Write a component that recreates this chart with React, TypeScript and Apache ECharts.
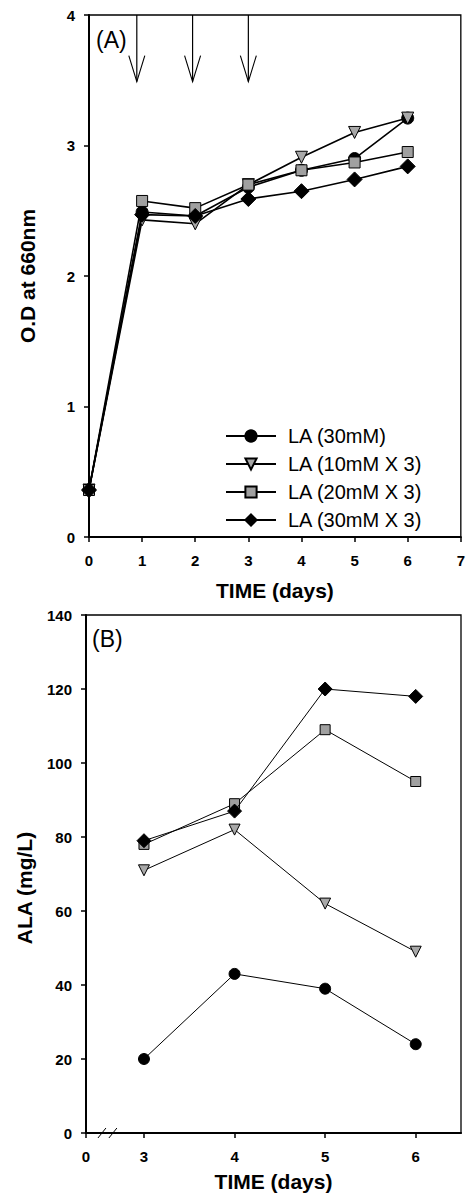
import React, { useEffect, useRef } from "react";
import * as echarts from "echarts";

// ---- Panel A data (O.D at 660nm) ----
const odDays = [0, 1, 2, 3, 4, 5, 6];
const odLA30 = [0.36, 2.49, 2.46, 2.68, 2.81, 2.9, 3.21];
const odLA10x3 = [0.36, 2.43, 2.4, 2.7, 2.91, 3.1, 3.21];
const odLA20x3 = [0.36, 2.575, 2.52, 2.7, 2.81, 2.87, 2.95];
const odLA30x3 = [0.36, 2.47, 2.46, 2.59, 2.65, 2.74, 2.84];
const arrowDays = [0.9, 1.95, 3.0];
const arrowTop = 4;
const arrowTip = 3.49;

// ---- Panel B data (ALA mg/L) ----
const alaDays = [3, 4, 5, 6];
const alaLA30 = [20, 43, 39, 24];
const alaLA10x3 = [71, 82, 62, 49];
const alaLA20x3 = [78, 89, 109, 95];
const alaLA30x3 = [79, 87, 120, 118];
const alaTickValues = [2.36, 3, 4, 5, 6];
const alaBreakMarks = [2.536, 2.657];

const seriesNames = ["LA (30mM)", "LA (10mM X 3)", "LA (20mM X 3)", "LA (30mM X 3)"];

const FONT = "Liberation Sans";

const styles = [
  { symbol: "circle", symbolSize: 12, rotate: 0, fill: "#000" },
  { symbol: "triangle", symbolSize: 12, rotate: 180, fill: "#a8a8a8" },
  { symbol: "rect", symbolSize: 11, rotate: 0, fill: "#a0a0a0" },
  { symbol: "diamond", symbolSize: 15, rotate: 0, fill: "#000" },
];

function pair(xs: number[], ys: number[]) {
  return xs.map((x, i) => [x, ys[i]]);
}

export default function App() {
  const ref = useRef<HTMLDivElement>(null);
  useEffect(() => {
    const chart = echarts.init(ref.current!, null, { renderer: "svg" });
    const axisLine = { show: true, lineStyle: { color: "#000", width: 2 } };
    const axisTick = { show: true, inside: false, length: 5, lineStyle: { color: "#000", width: 1.5 } };
    const axisLabel = { color: "#000", fontSize: 15, fontWeight: "bold" as const, fontFamily: FONT };
    const nameStyle = { color: "#000", fontSize: 21, fontWeight: "bold" as const, fontFamily: FONT };

    const odSets = [odLA30, odLA10x3, odLA20x3, odLA30x3];
    const alaSets = [alaLA30, alaLA10x3, alaLA20x3, alaLA30x3];

    const lineSeries: any[] = [];
    odSets.forEach((ys, i) => {
      const s = styles[i];
      lineSeries.push({
        type: "line",
        name: seriesNames[i],
        xAxisIndex: 0,
        yAxisIndex: 0,
        data: pair(odDays, ys),
        symbol: s.symbol,
        symbolSize: s.symbolSize,
        symbolRotate: s.rotate,
        lineStyle: { color: "#000", width: 1.6 },
        itemStyle: { color: s.fill, borderColor: "#000", borderWidth: 1 },
        z: 2 + i,
      });
    });
    alaSets.forEach((ys, i) => {
      const s = styles[i];
      lineSeries.push({
        type: "line",
        name: seriesNames[i],
        xAxisIndex: 1,
        yAxisIndex: 1,
        data: pair(alaDays, ys),
        symbol: s.symbol,
        symbolSize: s.symbolSize - 1,
        symbolRotate: s.rotate,
        lineStyle: { color: "#000", width: 1 },
        itemStyle: { color: s.fill, borderColor: "#000", borderWidth: 1 },
        z: 2 + i,
      });
    });

    const option: any = {
      animation: false,
      backgroundColor: "#fff",
      textStyle: { fontFamily: FONT },
      grid: [
        { left: 89, top: 15, width: 374, height: 522, show: true, borderColor: "#000", borderWidth: 1.3, backgroundColor: "transparent" },
        { left: 86, top: 615, width: 375, height: 518, show: true, borderColor: "#000", borderWidth: 1.3, backgroundColor: "transparent" },
      ],
      legend: {
        data: seriesNames,
        orient: "vertical",
        left: 220,
        top: 421,
        itemWidth: 50,
        itemHeight: 14,
        itemGap: 8,
        textStyle: { color: "#000", fontSize: 20, lineHeight: 18, fontFamily: FONT, padding: [0, 0, 0, 7] },
        selectedMode: false,
      },
      xAxis: [
        {
          gridIndex: 0,
          type: "value",
          min: 0,
          max: 7,
          interval: 1,
          axisLine,
          axisTick,
          axisLabel: { ...axisLabel, margin: 16 },
          splitLine: { show: false },
          name: "TIME (days)",
          nameLocation: "middle",
          nameGap: 43,
          nameTextStyle: nameStyle,
        },
        {
          gridIndex: 1,
          type: "value",
          min: alaTickValues[0],
          max: 6.5,
          axisLine,
          axisTick: { ...axisTick, customValues: alaTickValues },
          axisLabel: {
            ...axisLabel,
            margin: 16,
            customValues: alaTickValues,
            formatter: (v: number) => (v < 2.9 ? "0" : String(Math.round(v))),
          },
          splitLine: { show: false },
          name: "TIME (days)",
          nameLocation: "middle",
          nameGap: 38,
          nameTextStyle: nameStyle,
        },
      ],
      yAxis: [
        {
          gridIndex: 0,
          type: "value",
          min: 0,
          max: 4,
          interval: 1,
          axisLine,
          axisTick,
          axisLabel: { ...axisLabel, margin: 14 },
          splitLine: { show: false },
          name: "O.D at 660nm",
          nameLocation: "middle",
          nameGap: 51,
          nameTextStyle: nameStyle,
        },
        {
          gridIndex: 1,
          type: "value",
          min: 0,
          max: 140,
          interval: 20,
          axisLine,
          axisTick,
          axisLabel: { ...axisLabel, margin: 14 },
          splitLine: { show: false },
          name: "ALA (mg/L)",
          nameLocation: "middle",
          nameGap: 51,
          nameTextStyle: { ...nameStyle, padding: [0, 28, 0, 0] },
        },
      ],
      graphic: [
        { type: "text", left: 96, top: 28, style: { text: "(A)", fontSize: 23, fill: "#000", fontFamily: FONT } },
        { type: "text", left: 92, top: 627, style: { text: "(B)", fontSize: 23, fill: "#000", fontFamily: FONT } },
      ],
      series: [
        ...lineSeries,
        {
          type: "custom",
          xAxisIndex: 0,
          yAxisIndex: 0,
          silent: true,
          clip: false,
          z: 10,
          data: arrowDays.map((d) => [d, arrowTop, arrowTip]),
          renderItem: (params: any, api: any) => {
            const top = api.coord([api.value(0), api.value(1)]);
            const tip = api.coord([api.value(0), api.value(2)]);
            return {
              type: "group",
              children: [
                { type: "line", shape: { x1: top[0], y1: top[1], x2: tip[0], y2: tip[1] }, style: { stroke: "#000", lineWidth: 1.2 } },
                {
                  type: "polyline",
                  shape: { points: [[tip[0] - 8, tip[1] - 26], [tip[0], tip[1]], [tip[0] + 8, tip[1] - 26]] },
                  style: { stroke: "#000", fill: null, lineWidth: 1.1 },
                },
              ],
            };
          },
        },
        {
          type: "custom",
          xAxisIndex: 1,
          yAxisIndex: 1,
          silent: true,
          clip: false,
          z: 10,
          data: alaBreakMarks.map((d) => [d, 0]),
          renderItem: (params: any, api: any) => {
            const p = api.coord([api.value(0), api.value(1)]);
            return {
              type: "line",
              shape: { x1: p[0] - 4, y1: p[1] + 5, x2: p[0] + 4, y2: p[1] - 5 },
              style: { stroke: "#000", lineWidth: 1 },
            };
          },
        },
      ],
    };
    chart.setOption(option);
    return () => chart.dispose();
  }, []);
  return <div ref={ref} style={{ position: "absolute", left: 0, top: 0, width: 468, height: 1196 }} />;
}
